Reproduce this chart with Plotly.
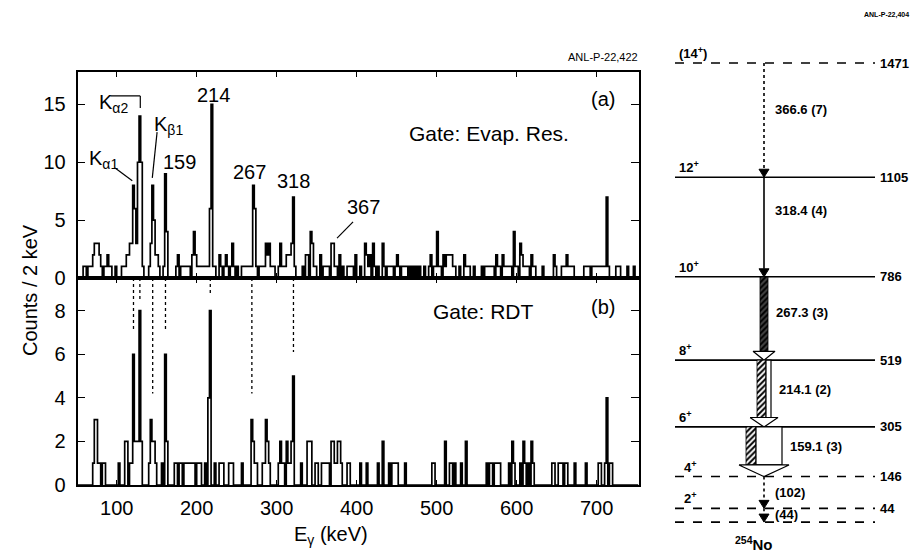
import numpy as np
import plotly.graph_objects as go

# ---------------- data ----------------
BIN_KEV = 2
E_LO, E_HI = 50, 752

# panel (a)  Gate: Evap. Res.  -- lower bin edge (keV) of non-empty 2 keV bins and their counts
a_energy = (
    [58, 60, 64, 66, 68, 70, 72, 74, 76, 78, 80, 84, 86, 88, 90, 92, 98]
    + [106, 108, 110, 112, 114, 116, 118, 120, 122, 124, 126, 128, 130, 132]
    + [140, 142, 144, 146, 148, 150, 152]
    + [158, 160, 162]
    + [174, 176, 180, 182, 184, 186, 188, 190, 194, 196, 198, 200, 202, 204, 206, 208, 210, 212, 214, 216, 218, 220, 222]
    + [228, 230, 234, 236, 238, 242, 244, 246, 250, 256, 258, 260, 262, 264, 266, 268, 270, 272, 274]
    + [278, 280, 282, 284, 286, 288, 290, 292, 294, 296]
    + [302, 304, 306, 308, 310, 312, 314, 316, 318, 320, 322]
    + [332, 336, 338, 342, 344, 346, 348, 354, 358, 360, 362, 364, 368, 370, 372, 374, 378, 382, 388, 390, 392, 394, 398]
    + [404, 410, 412, 414, 416, 420, 422, 426, 432, 434, 438, 440, 442, 444, 448, 450, 452, 456, 458, 460, 462, 466, 470, 474, 478, 484, 490, 492, 496, 498, 500, 502, 504, 508, 510, 512]
    + [514, 516, 518, 520, 522, 528, 534, 536, 538, 540, 546, 556, 560, 562, 564, 566, 568, 570, 574, 576, 578, 582, 584, 586, 588, 590, 592, 596, 598, 600, 604, 606, 608, 610, 612, 614, 618, 620, 622, 632]
    + [646, 648, 656, 658, 660, 662, 664, 666, 668, 670, 684, 686, 688, 690, 694, 696, 698, 700, 702, 704, 706, 708, 710, 712, 714, 724, 726, 728, 738, 746]
)
a_counts = (
    [1, 1, 1, 1, 1, 2, 3, 3, 3, 2, 1, 1, 1, 2, 1, 1, 1]
    + [1, 1, 1, 2, 2, 3, 3, 8, 6, 3, 10, 14, 10, 1]
    + [1, 3, 8, 5, 2, 2, 1]
    + [1, 9, 4]
    + [1, 2, 1, 1, 1, 1, 1, 1, 2, 4, 2, 1, 1, 1, 1, 1, 1, 1, 1, 6, 15, 1, 1]
    + [2, 1, 1, 2, 1, 1, 3, 1, 1, 1, 1, 1, 1, 1, 1, 1, 8, 6, 1]
    + [1, 1, 1, 1, 3, 2, 3, 1, 1, 1]
    + [1, 3, 1, 1, 1, 2, 2, 2, 3, 7, 1]
    + [1, 2, 2, 4, 3, 1, 1, 2, 1, 1, 1, 1, 3, 3, 1, 1, 2, 1, 1, 1, 1, 1, 2]
    + [1, 3, 2, 1, 2, 3, 1, 1, 3, 1, 1, 1, 1, 1, 1, 2, 1, 1, 1, 1, 1, 1, 1, 1, 1, 1, 1, 2, 1, 1, 4, 1, 1, 2, 1, 2]
    + [2, 2, 2, 1, 1, 1, 2, 1, 1, 1, 1, 1, 1, 1, 1, 1, 1, 1, 2, 1, 1, 2, 1, 1, 1, 1, 1, 4, 1, 1, 3, 2, 1, 1, 1, 1, 2, 1, 1, 1]
    + [2, 1, 1, 1, 1, 2, 1, 1, 1, 1, 1, 1, 1, 1, 1, 1, 1, 1, 1, 1, 1, 1, 1, 7, 1, 1, 1, 1, 1, 1]
)

# panel (b)  Gate: RDT
b_energy = (
    [70, 72, 74, 76, 78, 82, 84, 102, 110, 112, 116, 118, 120, 122, 124, 126, 128, 130, 140, 142, 144, 146, 148, 156, 160, 162]
    + [172, 174, 178, 180, 184, 186, 188, 190, 192, 194, 196, 200, 202, 204, 210, 214, 216, 222, 228, 230, 232, 240, 242, 244, 256, 268, 270, 272, 274]
    + [282, 284, 286, 288, 290, 302, 304, 306, 308, 312, 314, 316, 318, 320, 330, 338, 340, 342, 348, 350, 356, 358, 360, 362, 364, 368, 370, 372, 374, 376, 378, 380, 388, 390, 404, 412, 426, 432, 440, 444, 446, 448, 450, 460, 494, 496, 510, 516]
    + [518, 522, 530, 536, 562, 566, 568, 572, 574, 576, 578, 590, 594, 596, 604, 608, 610, 614, 618, 620, 644, 646, 652, 654, 656, 660, 662, 672, 686, 702, 704, 710, 712, 716, 718]
)
b_counts = (
    [1, 3, 3, 1, 1, 1, 1, 1, 2, 2, 1, 1, 6, 2, 2, 2, 8, 2, 1, 3, 2, 2, 1, 1, 6, 2]
    + [1, 1, 1, 1, 1, 1, 1, 1, 1, 1, 1, 1, 1, 1, 1, 4, 8, 1, 1, 1, 1, 1, 1, 1, 1, 3, 2, 1, 1]
    + [1, 1, 3, 2, 1, 1, 2, 1, 1, 2, 1, 1, 2, 5, 1, 2, 2, 2, 1, 1, 1, 1, 1, 1, 1, 2, 2, 1, 1, 2, 2, 1, 1, 1, 1, 1, 1, 2, 1, 1, 1, 1, 1, 1, 1, 1, 2, 1]
    + [1, 1, 1, 2, 1, 1, 1, 1, 1, 1, 1, 1, 2, 1, 1, 2, 1, 1, 2, 1, 1, 1, 1, 1, 1, 1, 1, 1, 1, 1, 1, 1, 4, 1, 1]
)

x_ticks = [100, 200, 300, 400, 500, 600, 700]
ya_ticks = [0, 5, 10, 15]
yb_ticks = [0, 2, 4, 6, 8]

# transitions seen in both gates (dotted guide lines), keV and how far they reach down in (b)
guide_keV = [121, 129, 145, 161, 217, 269, 321]
guide_low = [7.1, 8.4, 4.2, 7.1, 8.75, 4.2, 6.1]

# level scheme of 254No
level_keV = [1471, 1105, 786, 519, 305, 146, 44, 0]
level_spin = ["(14<sup>+</sup>)", "12<sup>+</sup>", "10<sup>+</sup>", "8<sup>+</sup>",
              "6<sup>+</sup>", "4<sup>+</sup>", "2<sup>+</sup>", ""]
level_text = ["1471", "1105", "786", "519", "305", "146", "44", ""]
level_tentative = [True, False, False, False, False, True, True, True]

tr_from = [1471, 1105, 786, 519, 305, 146, 44]
tr_to = [1105, 786, 519, 305, 146, 44, 0]
tr_text = ["366.6 (7)", "318.4 (4)", "267.3 (3)", "214.1 (2)", "159.1 (3)", "(102)", "(44)"]
tr_conv = [0, 0, 8, 9, 10, 0, 0]     # conversion-electron intensity (hatched)
tr_gamma = [0, 0, 0, 5, 26, 0, 0]    # gamma intensity (open)
tr_tentative = [True, False, False, False, False, True, True]

if len(a_energy) != len(a_counts) or len(b_energy) != len(b_counts):
    raise ValueError("array length mismatch")

# ---------------- figure ----------------
FONT = "Liberation Sans, Arial, Helvetica, sans-serif"
W, H = 912, 554


def spectrum(energy, counts):
    edges = np.arange(E_LO, E_HI + BIN_KEV, BIN_KEV)
    vals = np.zeros(len(edges))
    for e, c in zip(energy, counts):
        vals[int((e - E_LO) // BIN_KEV)] = c
    return edges, vals


fig = go.Figure()
xa, ya = spectrum(a_energy, a_counts)
xb, yb = spectrum(b_energy, b_counts)
fig.add_trace(go.Scatter(x=xa, y=ya, mode="lines", line=dict(color="black", width=1.7, shape="hv"),
                         xaxis="x", yaxis="y", hoverinfo="skip", showlegend=False))
fig.add_trace(go.Scatter(x=xb, y=yb, mode="lines", line=dict(color="black", width=1.7, shape="hv"),
                         xaxis="x2", yaxis="y2", hoverinfo="skip", showlegend=False))

YA_MAX, YB_MAX = 17.8, 9.5
for e, lo in zip(guide_keV, guide_low):
    fig.add_shape(type="line", xref="x2", yref="y2", x0=e, x1=e, y0=YB_MAX, y1=lo,
                  line=dict(color="black", width=1.3, dash="dot"))

XD = [77.5 / W, 639 / W]
YA = [1 - 278 / H, 1 - 72 / H]
YB = [1 - 485 / H, 1 - 278 / H]
axis_common = dict(showline=True, linecolor="black", linewidth=1.6, mirror="ticks", ticks="inside",
                   tickcolor="black", tickwidth=1.4, showgrid=False, zeroline=False, automargin=False,
                   tickfont=dict(family=FONT, size=20, color="black"))

# level-scheme coordinate system: x in px from left end of levels, y in keV
Y3_LO, Y3_HI = -102.2, 1672.9
KEV_PER_PX = (Y3_HI - Y3_LO) / H

fig.update_layout(
    template="none",
    width=W, height=H, autosize=False, margin=dict(l=0, r=0, t=0, b=0, pad=0, autoexpand=False),
    paper_bgcolor="white", plot_bgcolor="white", showlegend=False,
    font=dict(family=FONT, color="black"),
    xaxis=dict(domain=XD, anchor="y", range=[51, 753], tickvals=x_ticks, showticklabels=False,
               ticklen=5, **axis_common),
    yaxis=dict(domain=YA, anchor="x", range=[0, YA_MAX], tickvals=ya_ticks, ticklen=8,
               ticklabelstandoff=6, **axis_common),
    xaxis2=dict(domain=XD, anchor="y2", range=[51, 753], tickvals=x_ticks, ticklen=5,
                ticklabelstandoff=4, **axis_common),
    yaxis2=dict(domain=YB, anchor="x2", range=[0, YB_MAX], tickvals=yb_ticks, ticklen=8,
                ticklabelstandoff=6, **axis_common),
    xaxis3=dict(domain=[675 / W, 1], anchor="y3", range=[0, 237], visible=False, automargin=False),
    yaxis3=dict(domain=[0, 1], anchor="x3", range=[Y3_LO, Y3_HI], visible=False, automargin=False),
)

ann = []


def add_text(text, x, y, size, xref="paper", yref="paper", xanchor="center", yanchor="middle", **kw):
    ann.append(dict(text=text, x=x, y=y, xref=xref, yref=yref, xanchor=xanchor, yanchor=yanchor,
                    showarrow=False, font=dict(family=FONT, size=size, color="black"), **kw))


# axis titles and tags
add_text("Counts / 2 keV", 30 / W, 1 - 290 / H, 20, textangle=-90)
add_text("E<sub>γ</sub> (keV)", 331 / W, 1 - 535 / H, 20)
add_text("ANL-P-22,422", 640 / W, 1 - 57 / H, 11, xanchor="right")
add_text("<b>ANL-P-22,404</b>", 911 / W, 1 - 15 / H, 7, xanchor="right")

# panel texts
add_text("(a)", 708, 15.45, 20, xref="x", yref="y")
add_text("Gate: Evap. Res.", 565, 12.45, 21, xref="x", yref="y")
add_text("(b)", 708, 8.15, 20, xref="x2", yref="y2")
add_text("Gate: RDT", 559, 7.95, 21, xref="x2", yref="y2")

# peak labels in (a)
peak_pos = {"159": (179, 10.0), "214": (220.5, 15.8), "267": (265.5, 9.15), "318": (320.5, 8.35),
            "367": (409, 6.1)}
for t, (x, y) in peak_pos.items():
    add_text(t, x, y, 20, xref="x", yref="y")

xray_names = ["K<sub>α1</sub>", "K<sub>α2</sub>", "K<sub>β1</sub>"]
xray_pos = [(63, 10.2), (75.5, 15.1), (144.5, 13.2)]
for t, (x, y) in zip(xray_names, xray_pos):
    add_text(t, x, y, 20, xref="x", yref="y", xanchor="left")

# leader lines / bracket in (a)
for (x0, y0, x1, y1) in [(98, 9.5, 119.5, 8.4), (395.5, 4.85, 375.5, 3.45), (150.5, 12.6, 144.5, 8.65),
                         (92, 15.73, 129.5, 15.73), (129.5, 15.73, 129.5, 14.7)]:
    fig.add_shape(type="line", xref="x", yref="y", x0=x0, y0=y0, x1=x1, y1=y1,
                  line=dict(color="black", width=1.2))

# ---------------- level scheme ----------------
CX = 89
for e, spin, txt, tent in zip(level_keV, level_spin, level_text, level_tentative):
    fig.add_trace(go.Scatter(x=[0, 200], y=[e, e], mode="lines",
                             line=dict(color="black", width=1.6, dash="dash" if tent else "solid"),
                             xaxis="x3", yaxis="y3", hoverinfo="skip"))
    if txt:
        add_text("<b>" + txt + "</b>", 203, e, 13, xref="x3", yref="y3", xanchor="left")
    if spin:
        add_text("<b>" + spin + "</b>", 2 if e > 200 else 7, e, 13, xref="x3", yref="y3",
                 xanchor="left", yanchor="bottom")

label_dy = [35, 52, 18, 14, 18, 1, 1]
for i in range(len(tr_from)):
    e1, e2 = tr_from[i], tr_to[i]
    conv, gam = tr_conv[i], tr_gamma[i]
    w = conv + gam
    if w > 0:
        hh = (8 + 0.1 * w) * KEV_PER_PX
        base = e2 + hh
        left = CX - w / 2
        if conv > 0:
            xr = left + conv
            fig.add_trace(go.Scatter(
                x=[left, xr, xr, left, left], y=[e1, e1, base, base, e1], mode="lines",
                fill="toself", fillcolor="white",
                fillpattern=dict(shape="/", fgcolor="black", bgcolor="white" if gam > 0 else "#444",
                                 size=4, solidity=0.5),
                line=dict(color="black", width=0.8), xaxis="x3", yaxis="y3", hoverinfo="skip"))
        if gam > 0:
            xl = left + conv
            xr = left + w
            fig.add_trace(go.Scatter(
                x=[xl, xr, xr, xl, xl], y=[e1, e1, base, base, e1], mode="lines",
                fill="toself", fillcolor="white", line=dict(color="black", width=1.2),
                xaxis="x3", yaxis="y3", hoverinfo="skip"))
        b = w + 14
        fig.add_trace(go.Scatter(
            x=[CX - b / 2, CX + b / 2, CX, CX - b / 2], y=[base, base, e2, base], mode="lines",
            fill="toself", fillcolor="white", line=dict(color="black", width=1.2),
            xaxis="x3", yaxis="y3", hoverinfo="skip"))
    else:
        hh = 8 * KEV_PER_PX
        fig.add_trace(go.Scatter(
            x=[CX, CX], y=[e1, e2 + hh], mode="lines",
            line=dict(color="black", width=1.6, dash="dot" if tr_tentative[i] else "solid"),
            xaxis="x3", yaxis="y3", hoverinfo="skip"))
        fig.add_trace(go.Scatter(
            x=[CX - 5, CX + 5, CX, CX - 5], y=[e2 + hh, e2 + hh, e2, e2 + hh], mode="lines",
            fill="toself", fillcolor="black", line=dict(color="black", width=1),
            xaxis="x3", yaxis="y3", hoverinfo="skip"))
    lx = CX + max(w / 2, 3) + 6
    add_text("<b>" + tr_text[i] + "</b>", lx, (e1 + e2) / 2 + label_dy[i], 13, xref="x3", yref="y3",
             xanchor="left")

add_text("<b><sup>254</sup>No</b>", 79, -67, 15, xref="x3", yref="y3")

fig.update_layout(annotations=ann)
fig.write_html(
    "out.html",
    config={"displayModeBar": False, "responsive": False},
    post_script=("document.documentElement.style.margin='0';document.body.style.margin='0';"
                 "document.documentElement.style.overflow='hidden';document.body.style.overflow='hidden';"),
)
